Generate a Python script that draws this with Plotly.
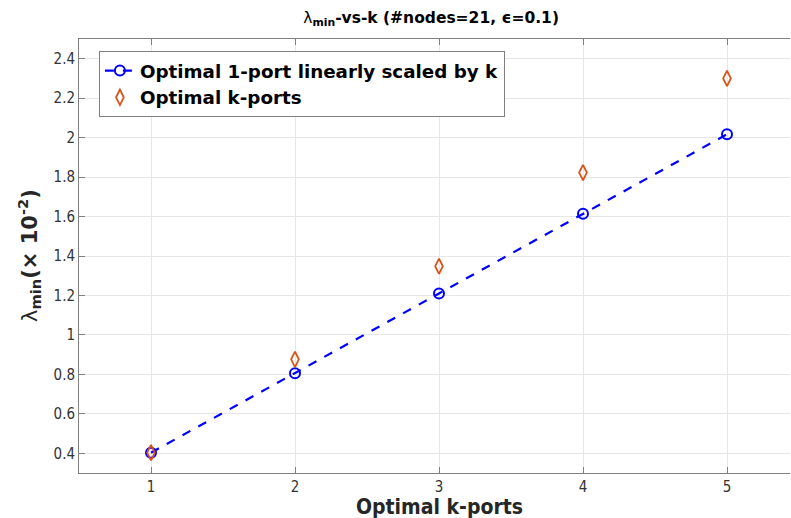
import plotly.graph_objects as go

k_values = [1, 2, 3, 4, 5]
one_port_scaled = [0.403, 0.806, 1.210, 1.614, 2.017]
k_ports = [0.403, 0.876, 1.348, 1.823, 2.300]

x_ticks = [1, 2, 3, 4, 5]
y_ticks = [0.4, 0.6, 0.8, 1.0, 1.2, 1.4, 1.6, 1.8, 2.0, 2.2, 2.4]
y_tick_labels = ["0.4", "0.6", "0.8", "1", "1.2", "1.4", "1.6", "1.8", "2", "2.2", "2.4"]

BLUE = "#0000FF"
ORANGE = "#D95319"
COND = "DejaVu Sans Condensed, DejaVu Sans, sans-serif"
SANS = "DejaVu Sans, sans-serif"

fig = go.Figure()
fig.add_trace(go.Scatter(
    x=k_values, y=one_port_scaled, mode="lines+markers",
    name="<b>Optimal 1-port linearly scaled by k</b>",
    line=dict(color=BLUE, width=2.2, dash="dash"),
    marker=dict(symbol="circle-open", size=10, color=BLUE, line=dict(width=2)),
))
fig.add_trace(go.Scatter(
    x=k_values, y=k_ports, mode="markers",
    name="<b>Optimal k-ports</b>",
    marker=dict(symbol="diamond-tall-open", size=11, color=ORANGE, line=dict(width=1.8)),
))

fig.update_layout(
    width=791, height=518, autosize=False,
    margin=dict(l=79, r=1, t=39, b=45),
    paper_bgcolor="white", plot_bgcolor="white",
    title=dict(
        text="λ<b><sub>min</sub>-vs-k (#nodes=21, ϵ=0.1)</b>",
        x=0.545, xanchor="center", y=0.967, yanchor="middle",
        font=dict(family=SANS, size=15.5, color="#000000"),
    ),
    legend=dict(
        x=0.028, y=0.972, xanchor="left", yanchor="top",
        bgcolor="white", bordercolor="#7f7f7f", borderwidth=1,
        font=dict(family=SANS, size=18.3, color="#000000"),
        itemwidth=30, tracegroupgap=0,
    ),
    showlegend=True,
)

fig.update_xaxes(
    range=[0.5, 5.4375], tickvals=x_ticks, ticktext=[str(v) for v in x_ticks],
    showgrid=True, gridcolor="#e6e6e6", gridwidth=1,
    showline=True, linecolor="#808080", linewidth=1, mirror="ticks",
    ticks="inside", ticklen=6, tickcolor="#808080",
    tickfont=dict(family=COND, size=15, color="#333333"),
    zeroline=False,
)
fig.update_yaxes(
    range=[0.3, 2.5], tickvals=y_ticks, ticktext=y_tick_labels,
    showgrid=True, gridcolor="#e6e6e6", gridwidth=1,
    showline=True, linecolor="#808080", linewidth=1, mirror=False,
    ticks="inside", ticklen=6, tickcolor="#808080",
    tickfont=dict(family=COND, size=15, color="#333333"),
    zeroline=False,
)

fig.add_annotation(
    text="<b>Optimal k-ports</b>", xref="x", yref="paper",
    x=3.0, y=0, yshift=-34, xanchor="center", yanchor="middle",
    showarrow=False, font=dict(family=COND, size=21, color="#262626"),
)
fig.add_annotation(
    text="λ<b><sub>min</sub>(× 10<sup>-2</sup>)</b>", xref="paper", yref="paper",
    x=0, xshift=-50, y=0.5, xanchor="center", yanchor="middle", textangle=-90,
    showarrow=False, font=dict(family=SANS, size=21, color="#262626"),
)

fig.write_html(
    "out.html",
    config={"displayModeBar": False},
    post_script="document.body.style.margin='0';document.body.style.overflow='hidden';",
)
